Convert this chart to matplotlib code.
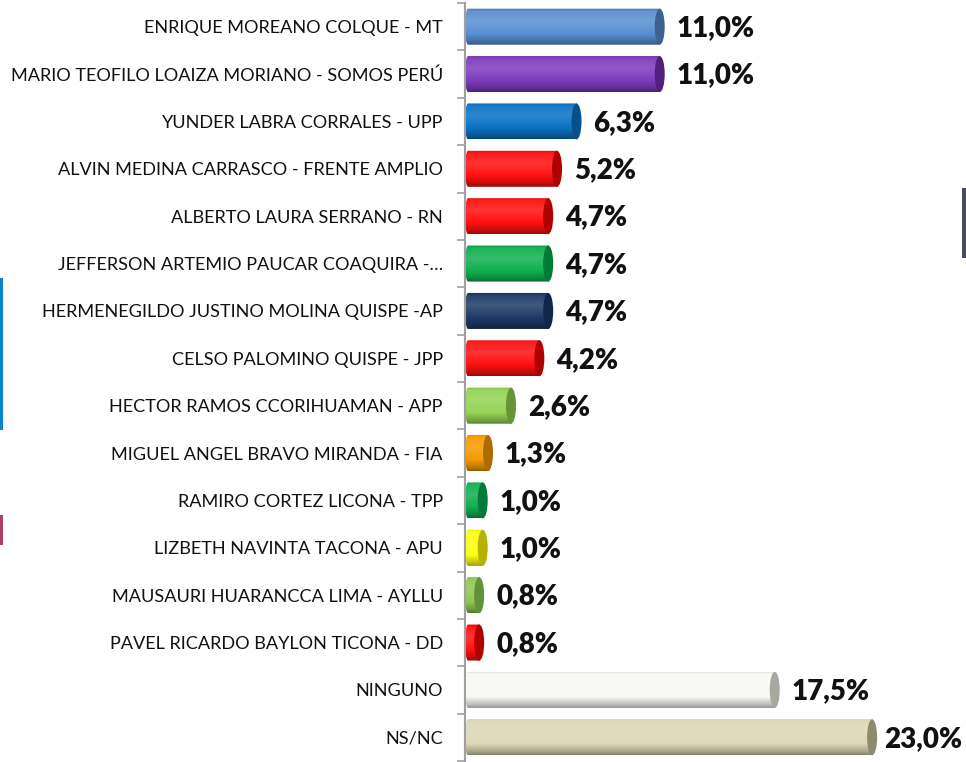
import numpy as np
import matplotlib
matplotlib.use("Agg")
import matplotlib.pyplot as plt
from matplotlib.patches import Ellipse, PathPatch, Rectangle
from matplotlib.path import Path
from matplotlib.colors import to_rgb

categories = [
    "ENRIQUE MOREANO COLQUE - MT",
    "MARIO TEOFILO LOAIZA MORIANO - SOMOS PERÚ",
    "YUNDER LABRA CORRALES - UPP",
    "ALVIN MEDINA CARRASCO - FRENTE AMPLIO",
    "ALBERTO LAURA SERRANO - RN",
    "JEFFERSON ARTEMIO PAUCAR COAQUIRA -…",
    "HERMENEGILDO JUSTINO MOLINA QUISPE -AP",
    "CELSO PALOMINO QUISPE - JPP",
    "HECTOR RAMOS CCORIHUAMAN - APP",
    "MIGUEL ANGEL BRAVO MIRANDA - FIA",
    "RAMIRO CORTEZ LICONA - TPP",
    "LIZBETH NAVINTA TACONA - APU",
    "MAUSAURI HUARANCCA LIMA - AYLLU",
    "PAVEL RICARDO BAYLON TICONA - DD",
    "NINGUNO",
    "NS/NC",
]
values = [11.0, 11.0, 6.3, 5.2, 4.7, 4.7, 4.7, 4.2, 2.6, 1.3, 1.0, 1.0, 0.8, 0.8, 17.5, 23.0]
colors = ["#5A8FD2", "#7E3BBE", "#0A72C4", "#FF1010", "#FF1010", "#10B050",
          "#1D3A66", "#FF1010", "#94D455", "#F59A00", "#10B050", "#FFFF10",
          "#8DC850", "#FF1010", "#F8F8F4", "#DDD8B6"]
cap_colors = ["#3D6290", "#52207A", "#064F8A", "#B00000", "#B00000", "#007A38",
              "#12264A", "#B00000", "#679437", "#B06A00", "#007A38", "#B4B400",
              "#62913A", "#B00000", "#A8A8A0", "#8E8A6C"]

W, H = 966, 762
fig = plt.figure(figsize=(W / 100, H / 100), dpi=100)
ax_x0 = 465
ax_left, ax_right = ax_x0 / W, 1.0
ax_top, ax_bot = 1 - 3 / H, 1 - 761 / H
ax = fig.add_axes([ax_left, ax_bot, ax_right - ax_left, ax_top - ax_bot])

n = len(categories)
px_per_unit = 17.7
xmax = (W - ax_x0) / px_per_unit
ax.set_xlim(0, xmax)
ax.set_ylim(-0.5, n - 0.5)

bh = 0.76
cap_rx = 5 / px_per_unit
left_rx = 3 / px_per_unit

def shade(c, f):
    c = np.array(to_rgb(c))
    if f >= 0:
        return c + (1 - c) * f
    return c * (1 + f)

t = np.linspace(0, 1, 64)
prof = np.interp(t, [0, 0.08, 0.35, 0.7, 0.92, 1.0], [-0.15, 0.05, 0.15, 0.0, -0.25, -0.4])

label_w = 78  # approx pixel width of a value label
for i, (cat, v, col, ccol) in enumerate(zip(categories, values, colors, cap_colors)):
    y = n - 1 - i
    grad = np.array([shade(col, p) for p in prof]).clip(0, 1)[:, None, :]
    im = ax.imshow(grad, extent=(0, v, y - bh / 2, y + bh / 2), origin="upper",
                   aspect="auto", interpolation="bilinear", zorder=2)
    th1 = np.linspace(np.pi / 2, 3 * np.pi / 2, 30)
    lx = left_rx + left_rx * np.cos(th1)
    ly = y + bh / 2 * np.sin(th1)
    th2 = np.linspace(-np.pi / 2, np.pi / 2, 30)
    rx = v + cap_rx * np.cos(th2)
    ry = y + bh / 2 * np.sin(th2)
    pts = np.concatenate([np.c_[lx, ly], np.c_[rx, ry]])
    pts = np.vstack([pts, pts[0]])
    clip = PathPatch(Path(pts, closed=True), transform=ax.transData,
                     facecolor="none", edgecolor="none")
    ax.add_patch(clip)
    im.set_clip_path(clip)
    cap = Ellipse((v, y), 2 * cap_rx, bh, facecolor=ccol, edgecolor="none", zorder=3)
    ax.add_patch(cap)
    end_px = ax_x0 + (v + cap_rx) * px_per_unit
    off_px = min(12, (W - 4 - label_w) - end_px)
    ax.annotate(f"{v:.1f}".replace(".", ",") + "%", xy=(v + cap_rx, y),
                xytext=(off_px * 0.72, -1), textcoords="offset points", va="center", ha="left",
                fontsize=20, fontweight="heavy", family="Lato", color="#111111",
                annotation_clip=False)

ax.set_yticks(np.arange(n))
ax.set_yticklabels(categories[::-1], family="Lato", fontsize=13.1, color="#111111")
ax.tick_params(axis="y", which="major", length=0, pad=16)
ax.set_yticks(np.arange(n + 1) - 0.5, minor=True)
ax.tick_params(axis="y", which="minor", length=6, width=1.2, color="#A0A0A0", direction="out")
ax.set_xticks([])
for s in ["top", "right", "bottom"]:
    ax.spines[s].set_visible(False)
ax.spines["left"].set_color("#A0A0A0")
ax.spines["left"].set_linewidth(1.5)
ax.set_facecolor("none")

fig.patches.append(Rectangle((0, 1 - 430 / H), 3 / W, 152 / H, transform=fig.transFigure,
                             facecolor="#0A84CC", edgecolor="none"))
fig.patches.append(Rectangle((0, 1 - 545 / H), 3 / W, 30 / H, transform=fig.transFigure,
                             facecolor="#B04060", edgecolor="none"))
fig.patches.append(Rectangle((962 / W, 1 - 258 / H), 4 / W, 70 / H, transform=fig.transFigure,
                             facecolor="#4A4A5C", edgecolor="none"))

fig.savefig("out.png", dpi=100)
